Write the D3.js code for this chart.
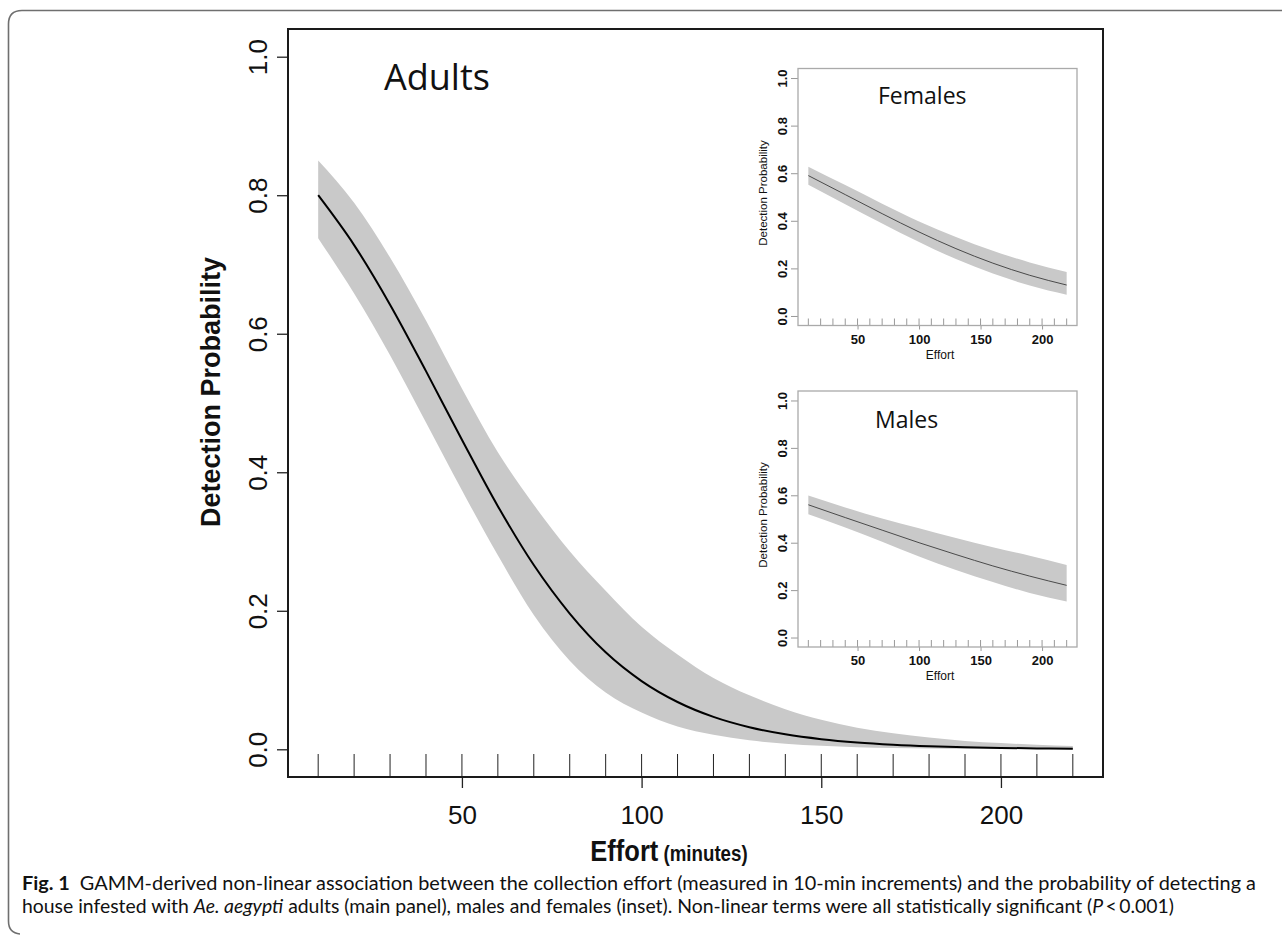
<!DOCTYPE html>
<html>
<head>
<meta charset="utf-8">
<script src="https://cdn.jsdelivr.net/npm/d3@7"></script>
<style>
  body { margin: 0; background: #fff; }
  svg { display: block; }
  text { font-family: "Liberation Sans", Arial, sans-serif; fill: #111; }
</style>
</head>
<body>
<svg id="chart" width="1282" height="936"></svg>
<script>
// effort values (minutes), one per 10-min increment
var effort = [10, 20, 30, 40, 50, 60, 70, 80, 90, 100, 110, 120, 130, 140, 150, 160, 170, 180, 190, 200, 210, 220];

// adults: fitted probability and confidence band
var adultFit = [0.800, 0.728, 0.642, 0.546, 0.447, 0.351, 0.266, 0.196, 0.140, 0.0985, 0.0683, 0.0468, 0.0319, 0.0216, 0.0146, 0.0098, 0.0066, 0.0044, 0.0030, 0.0020, 0.0013, 0.0009];
var adultUpper = [0.850, 0.789, 0.710, 0.619, 0.521, 0.429, 0.353, 0.286, 0.229, 0.177, 0.137, 0.103, 0.078, 0.058, 0.0425, 0.031, 0.023, 0.017, 0.012, 0.009, 0.0065, 0.0047];
var adultLower = [0.738, 0.658, 0.569, 0.472, 0.374, 0.280, 0.194, 0.128, 0.082, 0.053, 0.033, 0.021, 0.013, 0.008, 0.005, 0.003, 0.002, 0.0012, 0.0007, 0.0004, 0.0003, 0.0002];

// insets (females, males) read at fewer points
var insetEffort = [10, 40, 70, 100, 130, 160, 190, 220];
var femaleFit = [0.590, 0.510, 0.430, 0.353, 0.283, 0.222, 0.171, 0.130];
var femaleUpper = [0.627, 0.550, 0.472, 0.397, 0.332, 0.274, 0.225, 0.185];
var femaleLower = [0.552, 0.470, 0.389, 0.311, 0.239, 0.178, 0.128, 0.089];
var maleFit = [0.560, 0.506, 0.453, 0.400, 0.350, 0.302, 0.259, 0.220];
var maleUpper = [0.599, 0.549, 0.502, 0.461, 0.420, 0.381, 0.345, 0.306];
var maleLower = [0.520, 0.464, 0.404, 0.342, 0.285, 0.234, 0.188, 0.152];

// tick labels
var xTicks = [50, 100, 150, 200];
var yTicks = [0, 0.2, 0.4, 0.6, 0.8, 1.0];

var svg = d3.select("#chart");
var bandColor = "#c9c9c9";

// outer figure frame (rounded on the left)
svg.append("path")
  .attr("d", "M1282,10.5 H22 Q8.5,10.5 8.5,24 V921 Q8.5,933 20,934")
  .attr("fill", "none")
  .attr("stroke", "#6f6f6f")
  .attr("stroke-width", 1.6);

// draws one panel: band, line, rug, axes, box
function drawPanel(opts) {
  var x = d3.scaleLinear().domain([1.6, 228.4]).range([opts.left, opts.right]);
  var y = d3.scaleLinear().domain([-0.04, 1.04]).range([opts.bottom, opts.top]);
  var g = svg.append("g");

  var rows = opts.xs.map(function (v, i) {
    return { x: v, fit: opts.fit[i], lo: opts.lower[i], hi: opts.upper[i] };
  });

  g.append("rect")
    .attr("x", opts.left).attr("y", opts.top)
    .attr("width", opts.right - opts.left).attr("height", opts.bottom - opts.top)
    .attr("fill", "#fff");

  // confidence band
  var area = d3.area()
    .x(function (d) { return x(d.x); })
    .y0(function (d) { return y(d.lo); })
    .y1(function (d) { return y(d.hi); })
    .curve(d3.curveMonotoneX);
  g.append("path").datum(rows)
    .attr("d", area)
    .attr("fill", bandColor);

  // fitted line
  var line = d3.line()
    .x(function (d) { return x(d.x); })
    .y(function (d) { return y(d.fit); })
    .curve(d3.curveMonotoneX);
  g.append("path").datum(rows)
    .attr("d", line)
    .attr("fill", "none")
    .attr("stroke", opts.lineColor)
    .attr("stroke-width", opts.lineWidth);

  // rug of effort values along the bottom
  g.append("g").selectAll("line")
    .data(effort)
    .enter()
    .append("line")
    .attr("x1", function (d) { return x(d); })
    .attr("x2", function (d) { return x(d); })
    .attr("y1", opts.bottom - opts.rug)
    .attr("y2", opts.bottom)
    .attr("stroke", opts.tickColor)
    .attr("stroke-width", 1);

  // y axis with rotated labels
  var yAxis = g.append("g")
    .attr("transform", "translate(" + opts.left + ",0)")
    .call(d3.axisLeft(y).tickValues(yTicks).tickSize(opts.tick).tickSizeOuter(0).tickFormat(d3.format(".1f")));
  yAxis.select(".domain").remove();
  yAxis.selectAll(".tick line").attr("stroke", opts.tickColor).attr("stroke-width", opts.tickWidth);
  yAxis.selectAll(".tick text")
    .attr("transform", "rotate(-90)")
    .attr("x", 0)
    .attr("y", -opts.yLabelOff)
    .attr("dy", 0)
    .attr("text-anchor", "middle")
    .style("font-size", opts.tickFont + "px")
    .style("font-weight", opts.tickWeight)
    .style("font-family", "'Liberation Sans', Arial, sans-serif")
    .attr("fill", "#111");

  // x axis
  var xAxis = g.append("g")
    .attr("transform", "translate(0," + opts.bottom + ")")
    .call(d3.axisBottom(x).tickValues(xTicks).tickSize(opts.xTick).tickSizeOuter(0).tickPadding(opts.xPad));
  xAxis.select(".domain").remove();
  xAxis.selectAll(".tick line").attr("stroke", opts.tickColor).attr("stroke-width", opts.tickWidth);
  xAxis.selectAll(".tick text")
    .style("font-size", opts.tickFont + "px")
    .style("font-weight", opts.tickWeight)
    .style("font-family", "'Liberation Sans', Arial, sans-serif")
    .attr("fill", "#111");

  // box
  g.append("rect")
    .attr("x", opts.left).attr("y", opts.top)
    .attr("width", opts.right - opts.left).attr("height", opts.bottom - opts.top)
    .attr("fill", "none")
    .attr("stroke", opts.boxColor)
    .attr("stroke-width", opts.boxWidth);

  // panel title
  g.append("text")
    .attr("x", opts.titleX).attr("y", opts.titleY)
    .style("font-family", "'Open Sans', 'Noto Sans', sans-serif")
    .style("font-size", opts.titleSize + "px")
    .text(opts.title);

  return g;
}

// main panel: adults
drawPanel({
  left: 288, right: 1103, top: 29, bottom: 777,
  xs: effort, fit: adultFit, upper: adultUpper, lower: adultLower,
  lineColor: "#000", lineWidth: 2,
  rug: 23, tick: 11, xTick: 11, xPad: 18, tickWidth: 1.3,
  yLabelOff: 21, tickFont: 26, tickWeight: "normal",
  tickColor: "#222", boxColor: "#1a1a1a", boxWidth: 2,
  title: "Adults", titleX: 384, titleY: 90, titleSize: 36
});

// insets
var femalePanel = drawPanel({
  left: 798, right: 1077, top: 68.5, bottom: 325.5,
  xs: insetEffort, fit: femaleFit, upper: femaleUpper, lower: femaleLower,
  lineColor: "#4a4a4a", lineWidth: 1,
  rug: 7, tick: 7, xTick: 4, xPad: 5, tickWidth: 1,
  yLabelOff: 11, tickFont: 13, tickWeight: "bold",
  tickColor: "#999", boxColor: "#aaa", boxWidth: 1.3,
  title: "Females", titleX: 878, titleY: 104, titleSize: 23
});
var malePanel = drawPanel({
  left: 798, right: 1077, top: 391, bottom: 647,
  xs: insetEffort, fit: maleFit, upper: maleUpper, lower: maleLower,
  lineColor: "#4a4a4a", lineWidth: 1,
  rug: 7, tick: 7, xTick: 4, xPad: 5, tickWidth: 1,
  yLabelOff: 11, tickFont: 13, tickWeight: "bold",
  tickColor: "#999", boxColor: "#aaa", boxWidth: 1.3,
  title: "Males", titleX: 875, titleY: 428, titleSize: 23
});

// inset axis titles
[[femalePanel, 68.5, 325.5], [malePanel, 391, 647]].forEach(function (p) {
  p[0].append("text")
    .attr("transform", "translate(767," + ((p[1] + p[2]) / 2 - 4) + ") rotate(-90)")
    .attr("text-anchor", "middle")
    .style("font-size", "11.5px")
    .text("Detection Probability");
  p[0].append("text")
    .attr("x", 940).attr("y", p[2] + 33)
    .attr("text-anchor", "middle")
    .style("font-size", "12px")
    .text("Effort");
});

// main axis titles
svg.append("text")
  .attr("transform", "translate(220,392) rotate(-90)")
  .attr("text-anchor", "middle")
  .style("font-size", "27px")
  .style("font-weight", "bold")
  .text("Detection Probability");

var effortTitle = svg.append("text")
  .attr("transform", "translate(669,861) scale(0.85,1)")
  .attr("text-anchor", "middle")
  .style("font-weight", "bold");
effortTitle.append("tspan").style("font-size", "30px").text("Effort");
effortTitle.append("tspan").style("font-size", "22px").text(" (minutes)");

// caption
var cap1 = svg.append("text")
  .attr("x", 22).attr("y", 890)
  .attr("textLength", 1234)
  .attr("lengthAdjust", "spacingAndGlyphs")
  .style("font-family", "Lato, 'Open Sans', sans-serif")
  .style("font-size", "18.5px");
cap1.append("tspan").style("font-weight", "bold").text("Fig. 1");
cap1.append("tspan").text("\u2002GAMM-derived non-linear association between the collection effort (measured in 10-min increments) and the probability of detecting a");

var cap2 = svg.append("text")
  .attr("x", 22).attr("y", 913)
  .attr("textLength", 1152)
  .attr("lengthAdjust", "spacingAndGlyphs")
  .style("font-family", "Lato, 'Open Sans', sans-serif")
  .style("font-size", "18.5px");
cap2.append("tspan").text("house infested with ");
cap2.append("tspan").style("font-style", "italic").text("Ae. aegypti");
cap2.append("tspan").text(" adults (main panel), males and females (inset). Non-linear terms were all statistically significant (");
cap2.append("tspan").style("font-style", "italic").text("P");
cap2.append("tspan").text("\u2009<\u20090.001)");
</script>
</body>
</html>
